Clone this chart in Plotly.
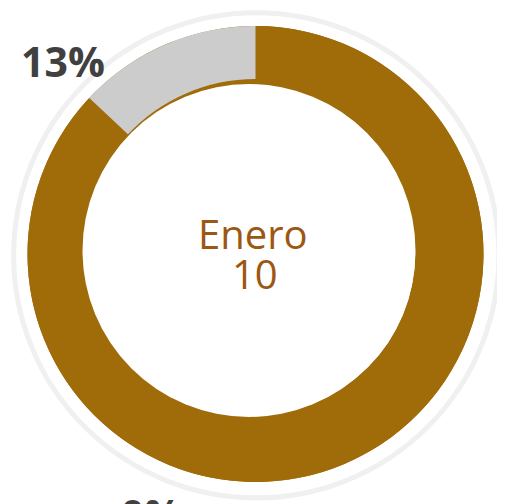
import plotly.graph_objects as go

# ---- data ----
categories = ["Logrado", "Pendiente"]
values = [87, 13]
slice_colors = ["#A06C0A", "#CCCCCC"]
month_label = "Enero"
month_value = 10
pct_labels = ["13%", "0%"]

W, H = 505, 504
OFF = 8  # page body margin offset

def px_x(x):
    return (x - OFF) / W

def px_y(y_from_top):
    return (H - (y_from_top - OFF)) / H

fig = go.Figure()

# outer pie geometry (pixels, window coordinates)
cx, cy, r = 255.5, 254.0, 228.0
dom_x = [px_x(cx - r), px_x(cx + r)]
dom_y = [px_y(cy + r), px_y(cy - r)]

# brown underlayer
fig.add_trace(go.Pie(
    values=[sum(values)], labels=["base"], marker=dict(colors=[slice_colors[0]], line=dict(width=0)),
    hole=0.70, domain=dict(x=dom_x, y=dom_y), textinfo="none", hoverinfo="skip",
    sort=False, showlegend=False,
))
# main ring
fig.add_trace(go.Pie(
    values=values, labels=categories,
    marker=dict(colors=slice_colors, line=dict(width=0)),
    hole=175 / 228, domain=dict(x=dom_x, y=dom_y), textinfo="none",
    sort=False, direction="clockwise", rotation=0, showlegend=False,
))

# white center disc (slightly offset, as in reference)
hx, hy, hr = 249.0, 250.5, 166.5
# outer light ring
ox, oy, orr = 256.25, 255.25, 242.6
fig.update_layout(
    width=W, height=H,
    margin=dict(l=0, r=0, t=0, b=0),
    paper_bgcolor="white", plot_bgcolor="white",
    showlegend=False,
    shapes=[
        dict(type="circle", xref="paper", yref="paper",
             x0=px_x(ox - orr), x1=px_x(ox + orr), y0=px_y(oy + orr), y1=px_y(oy - orr),
             line=dict(color="#F0F0F0", width=5), fillcolor="rgba(0,0,0,0)", layer="below"),
        dict(type="circle", xref="paper", yref="paper",
             x0=px_x(hx - hr), x1=px_x(hx + hr), y0=px_y(hy + hr), y1=px_y(hy - hr),
             line=dict(width=0), fillcolor="white", layer="above"),
    ],
    annotations=[
        dict(text=month_label, x=px_x(252.5), y=px_y(234), xref="paper", yref="paper",
             showarrow=False, xanchor="center", yanchor="middle",
             font=dict(family="Open Sans", size=40, color="#9C5712")),
        dict(text=str(month_value), x=px_x(254.5), y=px_y(273.5), xref="paper", yref="paper",
             showarrow=False, xanchor="center", yanchor="middle",
             font=dict(family="Open Sans", size=40, color="#9C5712")),
        dict(text=f"<b>{pct_labels[0]}</b>", x=px_x(62.5), y=px_y(61), xref="paper", yref="paper",
             showarrow=False, xanchor="center", yanchor="middle",
             font=dict(family="Open Sans", size=41, color="#404040")),
        dict(text=f"<b>{pct_labels[1]}</b>", x=px_x(151), y=px_y(514), xref="paper", yref="paper",
             showarrow=False, xanchor="center", yanchor="middle",
             font=dict(family="Open Sans", size=41, color="#404040")),
    ],
)

fig.write_html("out.html")
